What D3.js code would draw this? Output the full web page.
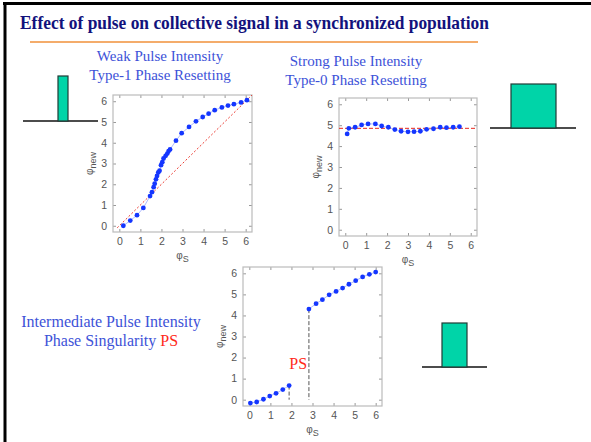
<!DOCTYPE html>
<html>
<head>
<meta charset="utf-8">
<script src="https://cdn.jsdelivr.net/npm/d3@7"></script>
<style>
  body { margin: 0; background: #fff; }
  svg { display: block; }
</style>
</head>
<body>
<svg id="slide" width="591" height="442"></svg>
<script>
// phase response data: [phi_s, phi_new]
const weakPoints = [
  [0.19, 0.00], [0.52, 0.25], [0.84, 0.51], [1.14, 0.86], [1.46, 1.43],
  [1.55, 1.62], [1.63, 1.86], [1.68, 2.03], [1.74, 2.24], [1.79, 2.40],
  [1.85, 2.57], [1.91, 2.65], [1.98, 2.92], [2.04, 3.06], [2.10, 3.24],
  [2.20, 3.37], [2.28, 3.48], [2.34, 3.60], [2.41, 3.68], [2.69, 4.10],
  [2.96, 4.46], [3.31, 4.76], [3.64, 5.03], [3.96, 5.24], [4.24, 5.40],
  [4.53, 5.57], [4.87, 5.70], [5.16, 5.79], [5.44, 5.86], [5.78, 5.94],
  [6.06, 6.05]
];
const strongPoints = [
  [0.09, 4.58], [0.17, 4.85], [0.47, 4.90], [0.78, 5.01], [1.09, 5.06],
  [1.44, 5.06], [1.74, 4.96], [2.06, 4.90], [2.37, 4.79], [2.67, 4.71],
  [3.00, 4.68], [3.29, 4.69], [3.59, 4.71], [3.89, 4.80], [4.22, 4.83],
  [4.54, 4.90], [4.84, 4.88], [5.16, 4.90], [5.46, 4.93]
];
const midLow = [
  [0.05, -0.16], [0.35, -0.11], [0.67, 0.02], [0.97, 0.17],
  [1.27, 0.30], [1.59, 0.48], [1.89, 0.67]
];
const midHigh = [
  [2.83, 4.30], [3.17, 4.56], [3.47, 4.75], [3.79, 4.98], [4.12, 5.14],
  [4.43, 5.30], [4.73, 5.48], [5.05, 5.65], [5.38, 5.83], [5.70, 5.95],
  [6.00, 6.06]
];
const strongLevel = 4.85;          // red dashed reference in the strong panel
const tickValues = [0, 1, 2, 3, 4, 5, 6];
const axisDomain = [-0.3, 6.3];

const titleText = 'Effect of pulse on collective signal in a synchronized population';

const svg = d3.select('#slide');
const blue = '#3d52d8';
const serif = '"Liberation Serif", "Times New Roman", serif';
const sans = '"Liberation Sans", Arial, sans-serif';

// slide frame
svg.append('line').attr('x1', 3).attr('x2', 591).attr('y1', 3.5).attr('y2', 3.5)
  .attr('stroke', '#000').attr('stroke-width', 3);
svg.append('line').attr('x1', 5).attr('x2', 5).attr('y1', 2).attr('y2', 442)
  .attr('stroke', '#000').attr('stroke-width', 3);

svg.append('text')
  .attr('x', 20).attr('y', 29)
  .attr('font-family', serif).attr('font-weight', 'bold')
  .attr('font-size', 19.5).attr('fill', '#12127c')
  .attr('textLength', 469).attr('lengthAdjust', 'spacingAndGlyphs')
  .text(titleText);

svg.append('line').attr('x1', 30).attr('x2', 478).attr('y1', 42).attr('y2', 42)
  .attr('stroke', '#f0913a').attr('stroke-width', 1.5);

const caption = (x, y, size, lines) => {
  lines.forEach((l, i) => {
    const t = svg.append('text')
      .attr('x', x).attr('y', y + i * 19)
      .attr('text-anchor', 'middle')
      .attr('font-family', serif).attr('font-size', size)
      .attr('fill', blue);
    l.forEach(part => t.append('tspan').attr('fill', part.c || blue).text(part.t));
  });
};
caption(160, 61, 15, [[{t: 'Weak Pulse Intensity'}], [{t: 'Type-1 Phase Resetting'}]]);
caption(356, 66, 15, [[{t: 'Strong Pulse Intensity'}], [{t: 'Type-0 Phase Resetting'}]]);
caption(111, 327, 16, [[{t: 'Intermediate Pulse Intensity'}], [{t: 'Phase Singularity '}, {t: 'PS', c: '#ff2a1a'}]]);

// pulse icons: baseline from x0..x1, block from b0..b1 rising to top
const pulses = [
  {x0: 23, x1: 98, b0: 58, b1: 68, base: 121, top: 76},
  {x0: 490, x1: 576, b0: 511, b1: 556, base: 128, top: 84},
  {x0: 422, x1: 487, b0: 442, b1: 467, base: 367, top: 323}
];
pulses.forEach(p => {
  svg.append('line').attr('x1', p.x0).attr('x2', p.x1).attr('y1', p.base).attr('y2', p.base)
    .attr('stroke', '#111').attr('stroke-width', 1.3);
  svg.append('rect').attr('x', p.b0).attr('y', p.top)
    .attr('width', p.b1 - p.b0).attr('height', p.base - p.top)
    .attr('fill', '#00d4a8').attr('stroke', '#1f3b36').attr('stroke-width', 1.2);
});

const panel = (box) => {
  const g = svg.append('g').attr('transform', `translate(${box.x},${box.y})`);
  const x = d3.scaleLinear().domain(axisDomain).range([0, box.w]);
  const y = d3.scaleLinear().domain(axisDomain).range([box.h, 0]);
  const fmt = d3.format('d');
  const axisStyle = sel => {
    sel.select('.domain').remove();
    sel.selectAll('line').attr('stroke', '#999');
    sel.selectAll('text').attr('fill', '#555').attr('font-family', sans).attr('font-size', 10.5);
  };
  g.append('g').attr('transform', `translate(0,${box.h})`)
    .call(d3.axisBottom(x).tickValues(tickValues).tickFormat(fmt).tickSize(-3).tickPadding(6))
    .call(axisStyle);
  g.append('g')
    .call(d3.axisLeft(y).tickValues(tickValues).tickFormat(fmt).tickSize(-3).tickPadding(6))
    .call(axisStyle);
  g.append('g')
    .call(d3.axisTop(x).tickValues(tickValues).tickSize(-3).tickFormat(''))
    .call(axisStyle);
  g.append('g').attr('transform', `translate(${box.w},0)`)
    .call(d3.axisRight(y).tickValues(tickValues).tickSize(-3).tickFormat(''))
    .call(axisStyle);
  g.append('rect').attr('width', box.w).attr('height', box.h)
    .attr('fill', 'none').attr('stroke', '#bbb').attr('stroke-width', 1.2);

  // axis labels
  const xl = g.append('text').attr('x', box.w / 2).attr('y', box.h + 27)
    .attr('text-anchor', 'middle').attr('font-family', sans).attr('font-size', 10).attr('fill', '#555');
  xl.append('tspan').text('φ');
  xl.append('tspan').attr('dy', 3).attr('font-size', 9).text('S');
  const yl = g.append('text')
    .attr('transform', `translate(-20,${box.h / 2}) rotate(-90)`)
    .attr('text-anchor', 'middle').attr('font-family', sans).attr('font-size', 10).attr('fill', '#555');
  yl.append('tspan').text('φ');
  yl.append('tspan').attr('dy', 3).attr('font-size', 9).text('new');

  return {g, x, y};
};

const line = (p) => d3.line().x(d => p.x(d[0])).y(d => p.y(d[1]));
const dots = (p, data) => {
  p.g.append('path').datum(data).attr('d', line(p))
    .attr('fill', 'none').attr('stroke', '#9aa8ff').attr('stroke-width', 0.8);
  p.g.selectAll(null).data(data).join('circle')
    .attr('cx', d => p.x(d[0])).attr('cy', d => p.y(d[1])).attr('r', 2.4)
    .attr('fill', '#1436ff');
};

// weak
const p1 = panel({x: 113, y: 95, w: 139, h: 137});
p1.g.append('path').datum([[-0.1, -0.1], [6.3, 6.3]]).attr('d', line(p1))
  .attr('stroke', '#e8261c').attr('stroke-width', 0.9).attr('stroke-dasharray', '2,2');
dots(p1, weakPoints);

// strong
const p2 = panel({x: 339, y: 98, w: 138, h: 138});
p2.g.append('path').datum([[axisDomain[0], strongLevel], [axisDomain[1], strongLevel]]).attr('d', line(p2))
  .attr('stroke', '#e8261c').attr('stroke-width', 1).attr('stroke-dasharray', '4,2');
dots(p2, strongPoints);

// intermediate
const p3 = panel({x: 243, y: 267, w: 139, h: 139});
[midLow[midLow.length - 1], midHigh[0]].forEach(d => {
  p3.g.append('path').datum([[d[0], d[1]], [d[0], 0]]).attr('d', line(p3))
    .attr('stroke', '#555').attr('stroke-width', 1).attr('stroke-dasharray', '4,2');
});
dots(p3, midLow);
dots(p3, midHigh);
p3.g.append('text')
  .attr('x', p3.x(1.9)).attr('y', p3.y(1.45))
  .attr('font-family', serif).attr('font-size', 16).attr('fill', '#ff2a1a')
  .text('PS');
</script>
</body>
</html>
